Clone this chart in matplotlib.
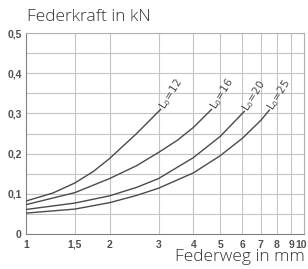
import numpy as np
import matplotlib
matplotlib.use("Agg")
import matplotlib.pyplot as plt
import matplotlib.transforms as mtransforms
from matplotlib.ticker import FixedLocator, NullLocator

# spring travel (mm) vs spring force (kN)
curve_names = ["12", "16", "20", "25"]
x_l12 = [1.0, 1.25, 1.5, 1.75, 2.0, 2.5, 3.05]
y_l12 = [0.082, 0.102, 0.127, 0.156, 0.188, 0.250, 0.310]
x_l16 = [1.0, 1.5, 2.0, 2.5, 3.0, 3.5, 4.0, 4.65]
y_l16 = [0.073, 0.103, 0.138, 0.170, 0.203, 0.233, 0.265, 0.310]
x_l20 = [1.0, 1.5, 2.0, 2.5, 3.0, 4.0, 5.0, 6.1]
y_l20 = [0.061, 0.077, 0.095, 0.116, 0.138, 0.190, 0.243, 0.305]
x_l25 = [1.0, 1.5, 2.0, 2.5, 3.0, 4.0, 5.0, 6.0, 7.0, 7.5]
y_l25 = [0.052, 0.062, 0.078, 0.096, 0.114, 0.152, 0.195, 0.238, 0.283, 0.308]

x_ticks = [1, 1.5, 2, 3, 4, 5, 6, 7, 8, 9, 10]
x_labels = ["1", "1,5", "2", "3", "4", "5", "6", "7", "8", "9", "10"]
y_ticks = [0, 0.1, 0.2, 0.3, 0.4, 0.5]
y_labels = ["0", "0,1", "0,2", "0,3", "0,4", "0,5"]
y_grid = [0.05, 0.1, 0.15, 0.2, 0.25, 0.3, 0.35, 0.4, 0.45]

fig = plt.figure(figsize=(3.08, 2.69), dpi=100)
ax = fig.add_axes([26/308, 35/269, 278/308, 201/269])
ax.set_xscale("log")
ax.set_xlim(1, 10)
ax.set_ylim(0, 0.5)

# grid
for xv in x_ticks[1:-1]:
    ax.axvline(xv, color="#c4c4c4", lw=0.8, zorder=1)
for yv in y_grid:
    ax.axhline(yv, color="#c4c4c4", lw=0.8, zorder=1)

curves = [(x_l12, y_l12), (x_l16, y_l16), (x_l20, y_l20), (x_l25, y_l25)]
for name, (xs, ys) in zip(curve_names, curves):
    ax.plot(xs, ys, color="#4a4a4a", lw=1.0, zorder=3)
    ax.text(xs[-1] * 1.01, ys[-1] + 0.003, r"L$_0$=" + name, rotation=58,
            rotation_mode="anchor", ha="left", va="center", fontsize=7.5,
            color="#4a4a4a", family="DejaVu Sans", zorder=4)

ax.xaxis.set_major_locator(FixedLocator(x_ticks))
ax.xaxis.set_minor_locator(NullLocator())
ax.set_xticklabels(x_labels)
ax.set_yticks(y_ticks)
ax.set_yticklabels(y_labels)
ax.tick_params(length=0, pad=4, labelsize=7.5, colors="#505050")
for lab in ax.get_xticklabels() + ax.get_yticklabels():
    lab.set_family("Liberation Sans")
    lab.set_fontweight("bold")
ax.tick_params(axis="y", pad=3)

# the last x label sits at the figure edge, nudge it in a little
last = ax.get_xticklabels()[-1]
last.set_transform(last.get_transform() +
                   mtransforms.ScaledTranslation(-3/100, 0, fig.dpi_scale_trans))

for sp in ax.spines.values():
    sp.set_color("#b0b0b0")
    sp.set_linewidth(0.8)
ax.spines["left"].set_color("#808080")
ax.spines["bottom"].set_color("#808080")

fig.text(27/308, 1 - 17/269, "Federkraft in kN", fontsize=12.5, family="Open Sans",
         fontweight="light", color="#333333", ha="left", va="center")
fig.text(305/308, 1 - 257/269, "Federweg in mm", fontsize=12.5, family="Open Sans",
         fontweight="light", color="#333333", ha="right", va="center")

fig.savefig("out.png", dpi=100)
